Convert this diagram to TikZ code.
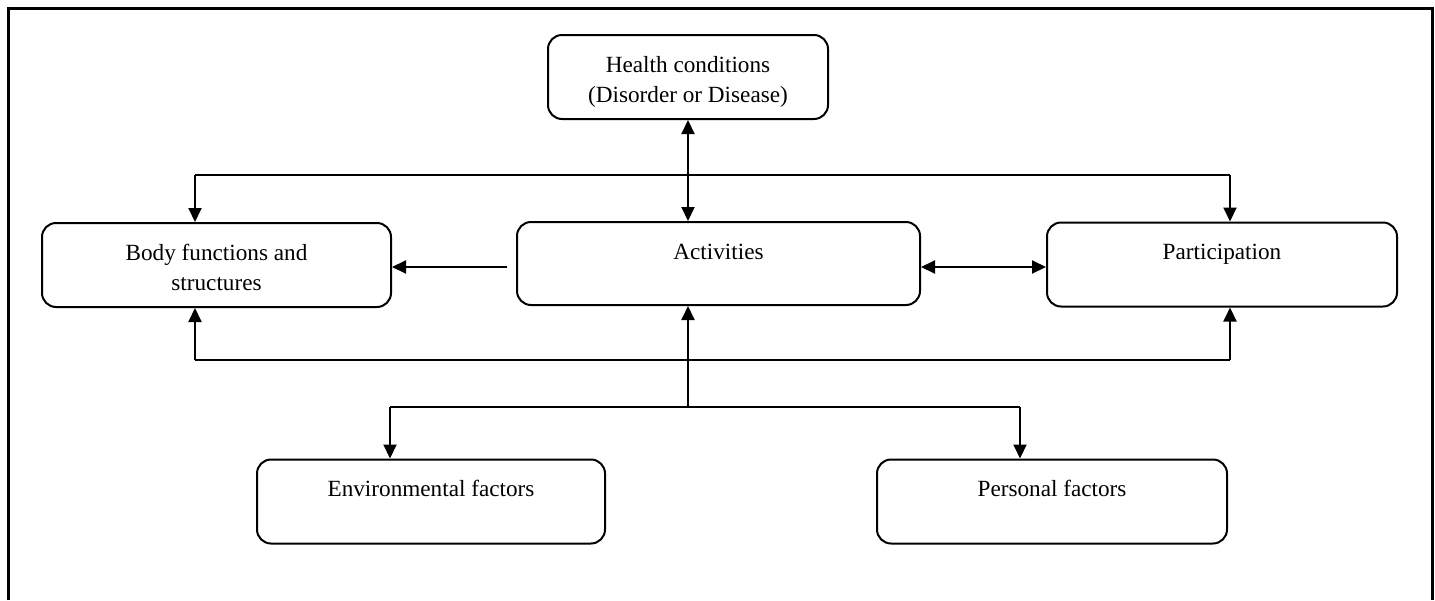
\documentclass[tikz,border=0pt]{standalone}
\usepackage{fontspec}
\setmainfont{Liberation Serif}
\usepackage{tikz}
\usetikzlibrary{arrows.meta}
\tikzstyle{block} = [rectangle, draw, rounded corners=7pt, line width=1pt, fill=white, align=center, inner sep=0pt, text height=18.5pt, text depth=23.5pt, font=\fontsize{11.6}{15}\selectfont]
\tikzstyle{twoline} = [text height=33.5pt, text depth=8.5pt]

\begin{document}
\begin{tikzpicture}[x=0.5pt,y=-0.5pt,>={Triangle[length=7pt,width=6.5pt]},line width=1pt]
  \useasboundingbox (0,0) rectangle (1435,600);
  \draw[line width=1.5pt] (8,600) -- (8,8) -- (1432,8) -- (1432,600);

  \node[block, twoline, minimum width=140pt] (health) at (688,77) {Health conditions\\(Disorder or Disease)};
  \node[block, twoline, minimum width=174.5pt] (body) at (216.5,265) {Body functions and\\structures};
  \node[block, minimum width=201.5pt, text depth=23pt] (act) at (718.5,263.5) {Activities};
  \node[block, minimum width=175pt] (part) at (1222,264.5) {Participation};
  \node[block, minimum width=174pt] (env) at (431,501.5) {Environmental factors};
  \node[block, minimum width=175pt] (pers) at (1052,501.5) {Personal factors};

  \coordinate (mid) at (688,175);
  \coordinate (topL) at (195,175);
  \coordinate (topR) at (1230,175);
  \coordinate (botL) at (195,360);
  \coordinate (botR) at (1230,360);
  \coordinate (fork) at (688,407);
  \coordinate (forkL) at (390,407);
  \coordinate (forkR) at (1020,407);
  \coordinate (actL) at (507,267);

  \draw[<->] (health.south -| mid) -- (act.north -| mid);
  \draw (topL) -- (topR);
  \draw[->] (topL) -- (body.north -| topL);
  \draw[->] (topR) -- (part.north -| topR);
  \draw[->] (actL) -- (body.east |- actL);
  \draw[<->] (act.east |- actL) -- (part.west |- actL);
  \draw (botL) -- (botR);
  \draw[->] (botL) -- (body.south -| botL);
  \draw[->] (botR) -- (part.south -| botR);
  \draw[->] (fork) -- (act.south -| fork);
  \draw (forkL) -- (forkR);
  \draw[->] (forkL) -- (env.north -| forkL);
  \draw[->] (forkR) -- (pers.north -| forkR);
\end{tikzpicture}
\end{document}
